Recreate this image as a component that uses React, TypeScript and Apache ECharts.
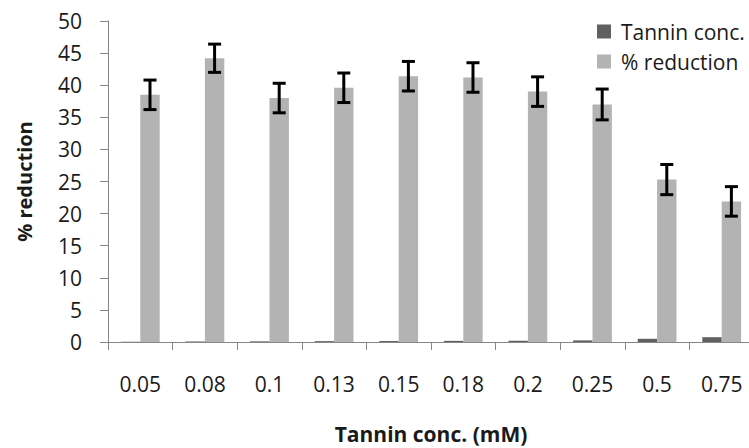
import React, { useEffect, useRef } from "react";
import * as echarts from "echarts";

const categories = ["0.05", "0.08", "0.1", "0.13", "0.15", "0.18", "0.2", "0.25", "0.5", "0.75"];
const tanninConc = [0.05, 0.08, 0.1, 0.13, 0.15, 0.18, 0.2, 0.25, 0.5, 0.75];
const reduction = [38.5, 44.2, 38.0, 39.6, 41.4, 41.2, 39.0, 37.0, 25.3, 21.9];
const reductionErr = [2.3, 2.2, 2.3, 2.3, 2.3, 2.3, 2.3, 2.4, 2.35, 2.3];
const yTicks = { min: 0, max: 50, interval: 5 };

const FONT = "'Open Sans', sans-serif";
const TEXT = "#1a1a1a";
const AXIS = "#868686";

export default function App() {
  const ref = useRef<HTMLDivElement>(null);
  useEffect(() => {
    if (!ref.current) return;
    const chart = echarts.init(ref.current, undefined, { renderer: "svg" });
    const errData = reduction.map((v, i) => [i, v - reductionErr[i], v + reductionErr[i]]);
    chart.setOption({
      animation: false,
      backgroundColor: "#ffffff",
      textStyle: { fontFamily: FONT },
      grid: { left: 108, right: -5, top: 21, bottom: 106, outerBoundsMode: "none", containLabel: false },
      legend: {
        orient: "vertical",
        left: 592,
        top: 16,
        itemWidth: 14,
        itemHeight: 14,
        itemGap: 9,
        icon: "rect",
        textStyle: { fontFamily: FONT, fontSize: 21, lineHeight: 21, color: TEXT, padding: [0, 0, 0, 5] },
        data: ["Tannin conc.", "% reduction"],
      },
      xAxis: {
        type: "category",
        data: categories,
        name: "Tannin conc. (mM)",
        nameLocation: "middle",
        nameGap: 81,
        nameTextStyle: { fontFamily: FONT, fontSize: 21, fontWeight: "bold", color: TEXT },
        axisLine: { lineStyle: { color: AXIS, width: 1 } },
        axisTick: { show: true, length: 8, lineStyle: { color: AXIS } },
        axisLabel: { margin: 31, fontFamily: FONT, fontSize: 21, color: TEXT },
        splitLine: { show: false },
      },
      yAxis: {
        type: "value",
        min: yTicks.min,
        max: yTicks.max,
        interval: yTicks.interval,
        name: "% reduction",
        nameLocation: "middle",
        nameGap: 74,
        nameTextStyle: { fontFamily: FONT, fontSize: 20, fontWeight: "bold", color: TEXT },
        axisLine: { show: true, lineStyle: { color: AXIS, width: 1 } },
        axisTick: { show: true, length: 8, lineStyle: { color: AXIS } },
        axisLabel: { margin: 26, fontFamily: FONT, fontSize: 21, color: TEXT },
        splitLine: { show: false },
      },
      series: [
        {
          name: "Tannin conc.",
          type: "bar",
          data: tanninConc,
          barWidth: "30%",
          barGap: "0%",
          itemStyle: { color: "#606060" },
        },
        {
          name: "% reduction",
          type: "bar",
          data: reduction,
          barWidth: "30%",
          barGap: "0%",
          itemStyle: { color: "#b3b3b3" },
        },
        {
          name: "err",
          type: "custom",
          data: errData,
          encode: { x: 0, y: [1, 2] },
          z: 10,
          silent: true,
          renderItem: (params: any, api: any) => {
            const idx = api.value(0);
            const lo = api.coord([idx, api.value(1)]);
            const hi = api.coord([idx, api.value(2)]);
            const band = api.size([1, 0])[0];
            const x = lo[0] + band * 0.15;
            const half = 6.5;
            const style = { stroke: "#000000", lineWidth: 3 };
            return {
              type: "group",
              children: [
                { type: "line", shape: { x1: x, y1: lo[1], x2: x, y2: hi[1] }, style },
                { type: "line", shape: { x1: x - half, y1: lo[1], x2: x + half, y2: lo[1] }, style },
                { type: "line", shape: { x1: x - half, y1: hi[1], x2: x + half, y2: hi[1] }, style },
              ],
            };
          },
        },
      ],
    });
    return () => chart.dispose();
  }, []);
  return (
    <div
      ref={ref}
      style={{ position: "fixed", left: 0, top: 0, width: 749, height: 448, background: "#fff" }}
    />
  );
}
